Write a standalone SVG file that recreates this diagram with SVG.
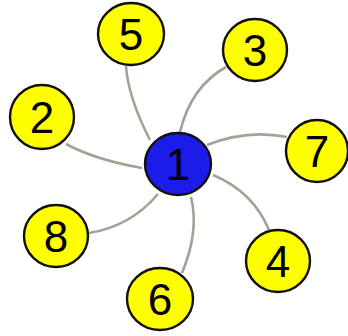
<svg xmlns="http://www.w3.org/2000/svg" width="348" height="336" viewBox="0 0 348 336">
<style>
.e{fill:none;stroke:#9ea594;stroke-width:2.6}
.n{fill:#ffff00;stroke:#111;stroke-width:2.4}
.c{fill:#1c1ce8;stroke:#111;stroke-width:2.4}
.t{font-family:"Liberation Sans",Arial,sans-serif;font-size:44px;fill:#000;text-anchor:middle}
</style>
<rect width="348" height="336" fill="#fff"/>
<g id="edges">
<path class="e" d="M150,140 Q128,97 126,66"/>
<path class="e" d="M180,132 Q191,86.5 226,67"/>
<path class="e" d="M142,168 Q96,160 66,144"/>
<path class="e" d="M207,145 Q247,129 287,137"/>
<path class="e" d="M158,194 Q130.5,226.5 89,233"/>
<path class="e" d="M213,175 Q253,191.5 269,230"/>
<path class="e" d="M191,197 Q199.5,231 182,273"/>
</g>
<g id="n1"><ellipse class="c" cx="178" cy="164" rx="33" ry="31"/><text class="t" x="178" y="180">1</text></g>
<g id="n5"><ellipse class="n" cx="131" cy="34" rx="33" ry="31"/><text class="t" x="131" y="50">5</text></g>
<g id="n3"><ellipse class="n" cx="255" cy="50" rx="32" ry="31"/><text class="t" x="255" y="66">3</text></g>
<g id="n2"><ellipse class="n" cx="42" cy="117" rx="32" ry="32"/><text class="t" x="42" y="133">2</text></g>
<g id="n7"><ellipse class="n" cx="317" cy="151" rx="31" ry="31"/><text class="t" x="317" y="167">7</text></g>
<g id="n8"><ellipse class="n" cx="56" cy="236" rx="32" ry="31"/><text class="t" x="56" y="252">8</text></g>
<g id="n4"><ellipse class="n" cx="278" cy="261" rx="32" ry="31"/><text class="t" x="278" y="277">4</text></g>
<g id="n6"><ellipse class="n" cx="160" cy="299" rx="33" ry="31"/><text class="t" x="160" y="315">6</text></g>
</svg>
